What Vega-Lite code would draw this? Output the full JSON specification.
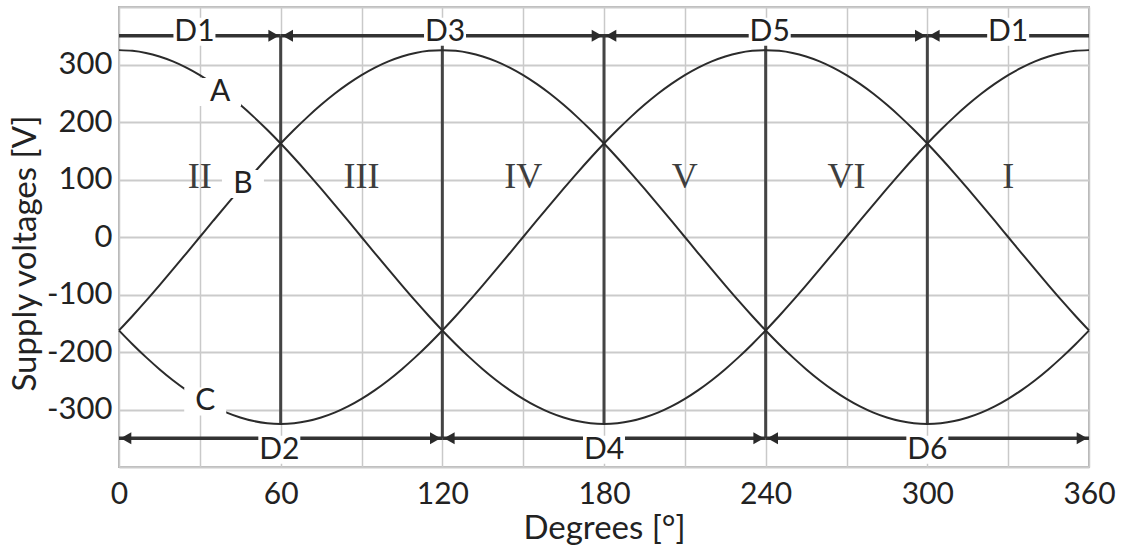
{
  "$schema": "https://vega.github.io/schema/vega-lite/v6.json",
  "width": 970,
  "height": 460,
  "autosize": {"type": "none"},
  "padding": {"left": 119, "top": 7, "right": 45, "bottom": 80},
  "background": "white",
  "config": {
    "font": "Lato",
    "view": {"stroke": "#b4b4b4", "strokeWidth": 2}
  },
  "datasets": {
    "phases": [
      {"deg": 0, "A": 325, "B": -162.5, "C": -162.5},
      {"deg": 5, "A": 323.8, "B": -137.4, "C": -186.4},
      {"deg": 10, "A": 320.1, "B": -111.2, "C": -208.9},
      {"deg": 15, "A": 313.9, "B": -84.1, "C": -229.8},
      {"deg": 20, "A": 305.4, "B": -56.4, "C": -249.0},
      {"deg": 25, "A": 294.6, "B": -28.3, "C": -266.2},
      {"deg": 30, "A": 281.5, "B": 0, "C": -281.5},
      {"deg": 35, "A": 266.2, "B": 28.3, "C": -294.6},
      {"deg": 40, "A": 249.0, "B": 56.4, "C": -305.4},
      {"deg": 45, "A": 229.8, "B": 84.1, "C": -313.9},
      {"deg": 50, "A": 208.9, "B": 111.2, "C": -320.1},
      {"deg": 55, "A": 186.4, "B": 137.4, "C": -323.8},
      {"deg": 60, "A": 162.5, "B": 162.5, "C": -325},
      {"deg": 65, "A": 137.4, "B": 186.4, "C": -323.8},
      {"deg": 70, "A": 111.2, "B": 208.9, "C": -320.1},
      {"deg": 75, "A": 84.1, "B": 229.8, "C": -313.9},
      {"deg": 80, "A": 56.4, "B": 249.0, "C": -305.4},
      {"deg": 85, "A": 28.3, "B": 266.2, "C": -294.6},
      {"deg": 90, "A": 0, "B": 281.5, "C": -281.5},
      {"deg": 95, "A": -28.3, "B": 294.6, "C": -266.2},
      {"deg": 100, "A": -56.4, "B": 305.4, "C": -249.0},
      {"deg": 105, "A": -84.1, "B": 313.9, "C": -229.8},
      {"deg": 110, "A": -111.2, "B": 320.1, "C": -208.9},
      {"deg": 115, "A": -137.4, "B": 323.8, "C": -186.4},
      {"deg": 120, "A": -162.5, "B": 325, "C": -162.5},
      {"deg": 125, "A": -186.4, "B": 323.8, "C": -137.4},
      {"deg": 130, "A": -208.9, "B": 320.1, "C": -111.2},
      {"deg": 135, "A": -229.8, "B": 313.9, "C": -84.1},
      {"deg": 140, "A": -249.0, "B": 305.4, "C": -56.4},
      {"deg": 145, "A": -266.2, "B": 294.6, "C": -28.3},
      {"deg": 150, "A": -281.5, "B": 281.5, "C": 0},
      {"deg": 155, "A": -294.6, "B": 266.2, "C": 28.3},
      {"deg": 160, "A": -305.4, "B": 249.0, "C": 56.4},
      {"deg": 165, "A": -313.9, "B": 229.8, "C": 84.1},
      {"deg": 170, "A": -320.1, "B": 208.9, "C": 111.2},
      {"deg": 175, "A": -323.8, "B": 186.4, "C": 137.4},
      {"deg": 180, "A": -325, "B": 162.5, "C": 162.5},
      {"deg": 185, "A": -323.8, "B": 137.4, "C": 186.4},
      {"deg": 190, "A": -320.1, "B": 111.2, "C": 208.9},
      {"deg": 195, "A": -313.9, "B": 84.1, "C": 229.8},
      {"deg": 200, "A": -305.4, "B": 56.4, "C": 249.0},
      {"deg": 205, "A": -294.6, "B": 28.3, "C": 266.2},
      {"deg": 210, "A": -281.5, "B": 0, "C": 281.5},
      {"deg": 215, "A": -266.2, "B": -28.3, "C": 294.6},
      {"deg": 220, "A": -249.0, "B": -56.4, "C": 305.4},
      {"deg": 225, "A": -229.8, "B": -84.1, "C": 313.9},
      {"deg": 230, "A": -208.9, "B": -111.2, "C": 320.1},
      {"deg": 235, "A": -186.4, "B": -137.4, "C": 323.8},
      {"deg": 240, "A": -162.5, "B": -162.5, "C": 325},
      {"deg": 245, "A": -137.4, "B": -186.4, "C": 323.8},
      {"deg": 250, "A": -111.2, "B": -208.9, "C": 320.1},
      {"deg": 255, "A": -84.1, "B": -229.8, "C": 313.9},
      {"deg": 260, "A": -56.4, "B": -249.0, "C": 305.4},
      {"deg": 265, "A": -28.3, "B": -266.2, "C": 294.6},
      {"deg": 270, "A": 0, "B": -281.5, "C": 281.5},
      {"deg": 275, "A": 28.3, "B": -294.6, "C": 266.2},
      {"deg": 280, "A": 56.4, "B": -305.4, "C": 249.0},
      {"deg": 285, "A": 84.1, "B": -313.9, "C": 229.8},
      {"deg": 290, "A": 111.2, "B": -320.1, "C": 208.9},
      {"deg": 295, "A": 137.4, "B": -323.8, "C": 186.4},
      {"deg": 300, "A": 162.5, "B": -325, "C": 162.5},
      {"deg": 305, "A": 186.4, "B": -323.8, "C": 137.4},
      {"deg": 310, "A": 208.9, "B": -320.1, "C": 111.2},
      {"deg": 315, "A": 229.8, "B": -313.9, "C": 84.1},
      {"deg": 320, "A": 249.0, "B": -305.4, "C": 56.4},
      {"deg": 325, "A": 266.2, "B": -294.6, "C": 28.3},
      {"deg": 330, "A": 281.5, "B": -281.5, "C": 0},
      {"deg": 335, "A": 294.6, "B": -266.2, "C": -28.3},
      {"deg": 340, "A": 305.4, "B": -249.0, "C": -56.4},
      {"deg": 345, "A": 313.9, "B": -229.8, "C": -84.1},
      {"deg": 350, "A": 320.1, "B": -208.9, "C": -111.2},
      {"deg": 355, "A": 323.8, "B": -186.4, "C": -137.4},
      {"deg": 360, "A": 325, "B": -162.5, "C": -162.5}
    ],
    "boundaries": [
      {"deg": 60, "lo": -325, "hi": 350},
      {"deg": 120, "lo": -350, "hi": 350},
      {"deg": 180, "lo": -325, "hi": 350},
      {"deg": 240, "lo": -350, "hi": 350},
      {"deg": 300, "lo": -325, "hi": 350}
    ],
    "conduction": [
      {"diode": "D1", "from": 0, "to": 60, "level": 350},
      {"diode": "D3", "from": 60, "to": 180, "level": 350},
      {"diode": "D5", "from": 180, "to": 300, "level": 350},
      {"diode": "D1", "from": 300, "to": 360, "level": 350},
      {"diode": "D2", "from": 0, "to": 120, "level": -350},
      {"diode": "D4", "from": 120, "to": 240, "level": -350},
      {"diode": "D6", "from": 240, "to": 360, "level": -350}
    ],
    "headsRight": [
      {"deg": 60, "level": 350},
      {"deg": 180, "level": 350},
      {"deg": 300, "level": 350},
      {"deg": 120, "level": -350},
      {"deg": 240, "level": -350},
      {"deg": 360, "level": -350}
    ],
    "headsLeft": [
      {"deg": 60, "level": 350},
      {"deg": 180, "level": 350},
      {"deg": 300, "level": 350},
      {"deg": 0, "level": -350},
      {"deg": 120, "level": -350},
      {"deg": 240, "level": -350}
    ],
    "tags": [
      {"text": "A", "deg": 37.5, "volts": 252},
      {"text": "B", "deg": 46, "volts": 92},
      {"text": "C", "deg": 32, "volts": -286},
      {"text": "D1", "deg": 28, "volts": 357},
      {"text": "D3", "deg": 121, "volts": 357},
      {"text": "D5", "deg": 241.5, "volts": 357},
      {"text": "D1", "deg": 330, "volts": 357},
      {"text": "D2", "deg": 59.5, "volts": -370},
      {"text": "D4", "deg": 180, "volts": -370},
      {"text": "D6", "deg": 300, "volts": -370}
    ],
    "sectors": [
      {"text": "II", "deg": 30, "volts": 105},
      {"text": "III", "deg": 90, "volts": 105},
      {"text": "IV", "deg": 150, "volts": 105},
      {"text": "V", "deg": 210, "volts": 105},
      {"text": "VI", "deg": 270, "volts": 105},
      {"text": "I", "deg": 330, "volts": 105}
    ]
  },
  "layer": [
    {
      "data": {"name": "boundaries"},
      "mark": {"type": "rule", "color": "#444444", "strokeWidth": 3},
      "encoding": {
        "x": {
          "field": "deg",
          "type": "quantitative",
          "scale": {"domain": [0, 360], "nice": false, "zero": false},
          "axis": {
            "values": [0, 30, 60, 90, 120, 150, 180, 210, 240, 270, 300, 330, 360],
            "labelExpr": "datum.value % 60 === 0 ? datum.label : ''",
            "labelOverlap": false,
            "labelFlush": false,
            "grid": true,
            "gridColor": "#c9c9c9",
            "gridWidth": 1.5,
            "ticks": false,
            "domain": false,
            "labelFontSize": 30,
            "labelColor": "#222222",
            "labelPadding": 12,
            "title": "Degrees [°]",
            "titleFontSize": 33,
            "titleFontWeight": "normal",
            "titleColor": "#222222",
            "titlePadding": 3
          }
        },
        "y": {
          "field": "lo",
          "type": "quantitative",
          "scale": {"domain": [-400, 400], "nice": false},
          "axis": {
            "values": [-400, -350, -300, -250, -200, -150, -100, -50, 0, 50, 100, 150, 200, 250, 300, 350, 400],
            "labelExpr": "datum.value % 100 === 0 && abs(datum.value) <= 300 ? '' + datum.value : ''",
            "labelOverlap": false,
            "grid": true,
            "gridColor": "#cbcbcb",
            "gridWidth": 2,
            "ticks": false,
            "domain": false,
            "labelFontSize": 31,
            "labelColor": "#222222",
            "labelPadding": 7,
            "title": "Supply voltages [V]",
            "titleFontSize": 33,
            "titleFontWeight": "normal",
            "titleColor": "#222222",
            "titlePadding": 4,
            "titleY": 246
          }
        },
        "y2": {"field": "hi"}
      }
    },
    {
      "mark": {"type": "rule", "color": "#151515", "strokeWidth": 3.5},
      "encoding": {"y": {"datum": 0}}
    },
    {
      "data": {"name": "conduction"},
      "mark": {"type": "rule", "color": "#333333", "strokeWidth": 3.5},
      "encoding": {
        "x": {"field": "from", "type": "quantitative"},
        "x2": {"field": "to"},
        "y": {"field": "level", "type": "quantitative"}
      }
    },
    {
      "data": {"name": "headsRight"},
      "mark": {"type": "point", "shape": "triangle-right", "filled": true, "color": "#2a2a2a", "opacity": 1, "size": 150, "xOffset": -7},
      "encoding": {
        "x": {"field": "deg", "type": "quantitative"},
        "y": {"field": "level", "type": "quantitative"}
      }
    },
    {
      "data": {"name": "headsLeft"},
      "mark": {"type": "point", "shape": "triangle-left", "filled": true, "color": "#2a2a2a", "opacity": 1, "size": 150, "xOffset": 7},
      "encoding": {
        "x": {"field": "deg", "type": "quantitative"},
        "y": {"field": "level", "type": "quantitative"}
      }
    },
    {
      "data": {"name": "phases"},
      "transform": [{"fold": ["A", "B", "C"], "as": ["phase", "volts"]}],
      "mark": {"type": "line", "color": "#2b2b2b", "strokeWidth": 2, "interpolate": "monotone"},
      "encoding": {
        "x": {"field": "deg", "type": "quantitative"},
        "y": {"field": "volts", "type": "quantitative"},
        "detail": {"field": "phase"}
      }
    },
    {
      "data": {"name": "tags"},
      "mark": {"type": "point", "shape": "M-1,-0.667H1V0.667H-1Z", "filled": true, "color": "white", "opacity": 1, "size": 1764},
      "encoding": {
        "x": {"field": "deg", "type": "quantitative"},
        "y": {"field": "volts", "type": "quantitative"}
      }
    },
    {
      "data": {"name": "tags"},
      "mark": {"type": "text", "font": "Lato", "fontSize": 30, "color": "#222222", "align": "center", "baseline": "middle"},
      "encoding": {
        "x": {"field": "deg", "type": "quantitative"},
        "y": {"field": "volts", "type": "quantitative"},
        "text": {"field": "text"}
      }
    },
    {
      "data": {"name": "sectors"},
      "mark": {"type": "text", "font": "Liberation Serif", "fontSize": 36, "color": "#3e3e3e", "align": "center", "baseline": "middle"},
      "encoding": {
        "x": {"field": "deg", "type": "quantitative"},
        "y": {"field": "volts", "type": "quantitative"},
        "text": {"field": "text"}
      }
    }
  ]
}
